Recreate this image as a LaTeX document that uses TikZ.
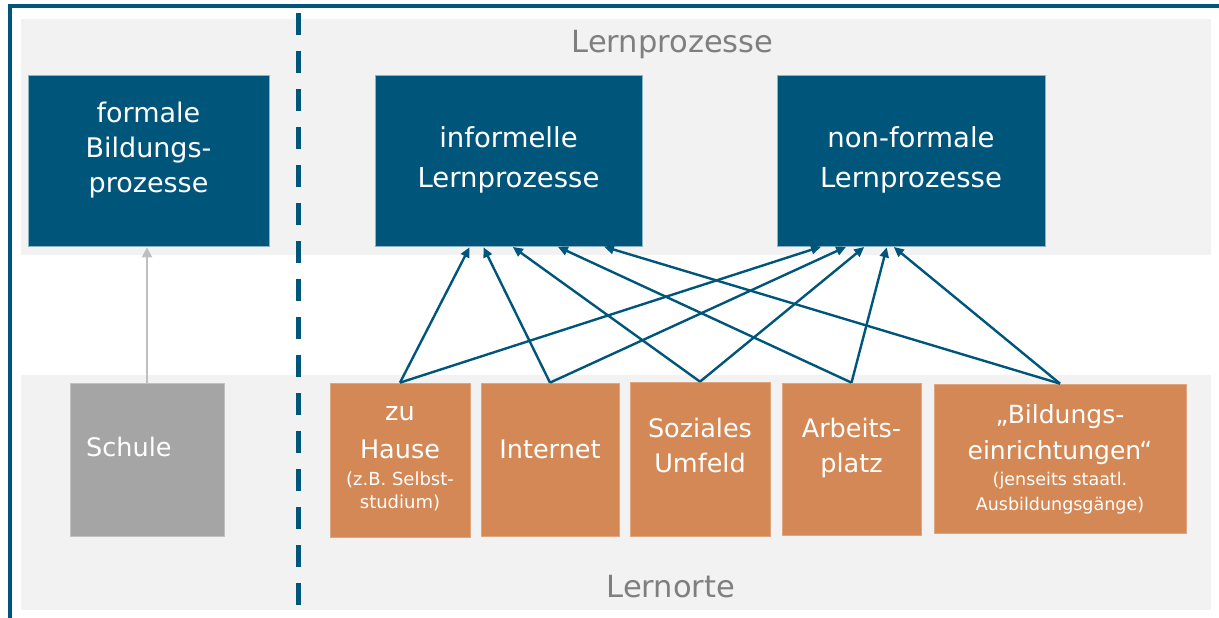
\documentclass[tikz,border=0pt]{standalone}
\usepackage{fontspec}
\setmainfont{DejaVu Sans}
\usetikzlibrary{arrows.meta, positioning, calc}

\definecolor{boxblue}{RGB}{0,86,122}
\definecolor{ortorange}{RGB}{211,136,85}
\definecolor{schulgrau}{RGB}{165,165,165}
\definecolor{bandgrau}{RGB}{242,242,242}
\definecolor{labelgrau}{RGB}{127,127,127}
\definecolor{pfeilgrau}{RGB}{191,191,191}

\begin{document}
\begin{tikzpicture}[x=1pt, y=-1pt,
    prozess/.style={fill=boxblue, draw=boxblue!45!white, line width=0.7pt, inner sep=0pt},
    ort/.style={fill=ortorange, draw=ortorange!75!white, line width=0.7pt, inner sep=0pt},
    schulbox/.style={fill=schulgrau, draw=schulgrau!70!white, line width=0.7pt, inner sep=0pt},
    prozesstext/.style={text=white, font=\fontsize{27.5}{40}\selectfont, align=center, inner sep=0pt, anchor=base},
    orttext/.style={text=white, font=\fontsize{25.5}{35}\selectfont, align=center, inner sep=0pt, anchor=base},
    kleintext/.style={text=white, font=\fontsize{18}{24}\selectfont, align=center, inner sep=0pt, anchor=base},
    bandlabel/.style={text=labelgrau, font=\fontsize{30.5}{36}\selectfont, inner sep=0pt, anchor=base},
    pfeil/.style={-{Triangle[length=10pt, width=9pt]}, boxblue, line width=2.4pt, shorten >=1pt}]
    \useasboundingbox (0,0) rectangle (1219,618);

    % Baender
    \fill[bandgrau] (21,19) rectangle (1211,255);
    \fill[bandgrau] (21,375) rectangle (1211,610);
    \node[bandlabel] (lprozesse) at (672.5,53) {Lernprozesse};
    \node[bandlabel] (lorte) at (671,597) {Lernorte};

    % Rahmen und Trennlinie
    \draw[boxblue, line width=3.5pt] (10,622) -- (10,6) -- (1223,6);
    \draw[boxblue, line width=5pt, dash pattern=on 22pt off 16pt] (298,13) -- (298,610);

    % Lernprozesse
    \node[prozess, minimum width=241pt, minimum height=171pt] (formal) at (148.5,160.5) {};
    \node[prozesstext, font=\fontsize{27}{35}\selectfont] (formal-t) at (148.5,192) {formale\\Bildungs-\\prozesse};
    \node[prozess, minimum width=267pt, minimum height=171pt] (inf) at (508.5,160.5) {};
    \node[prozesstext] (inf-t) at (508.5,187) {informelle\\Lernprozesse};
    \node[prozess, minimum width=268pt, minimum height=171pt] (nonf) at (911,160.5) {};
    \node[prozesstext] (nonf-t) at (911,187) {non-formale\\Lernprozesse};

    % Lernorte
    \node[schulbox, minimum width=154pt, minimum height=153pt] (schule) at (147,459.5) {};
    \node[orttext, anchor=base west] (schule-t) at (86,456) {Schule};
    \node[ort, minimum width=140pt, minimum height=154pt] (haus) at (400,460) {};
    \node[orttext, font=\fontsize{25.5}{38}\selectfont] (haus-t) at (400,458) {zu\\Hause};
    \node[kleintext, font=\fontsize{18}{23}\selectfont] (haus-k) at (400,508) {(z.B. Selbst-\\studium)};
    \node[ort, minimum width=138pt, minimum height=153pt] (internet) at (550,459.5) {};
    \node[orttext] (internet-t) at (550,458) {Internet};
    \node[ort, minimum width=140pt, minimum height=154pt] (sozial) at (700,459) {};
    \node[orttext] (sozial-t) at (700,472) {Soziales\\Umfeld};
    \node[ort, minimum width=139pt, minimum height=152pt] (arbeit) at (851.5,459) {};
    \node[orttext] (arbeit-t) at (851.5,472) {Arbeits-\\platz};
    \node[ort, minimum width=252pt, minimum height=149pt] (bildung) at (1060,458.5) {};
    \node[orttext, font=\fontsize{25}{36}\selectfont] (bildung-t) at (1060,459) {„Bildungs-\\einrichtungen“};
    \node[kleintext, font=\fontsize{17.5}{25}\selectfont] (bildung-k) at (1060,510) {(jenseits staatl.\\Ausbildungsgänge)};

    % Verbindungen
    \draw[-{Triangle[length=10pt, width=10pt]}, pfeilgrau, line width=2.2pt, shorten >=1pt] (schule.north) -- (schule.north |- formal.south);
    \foreach \o/\a/\b in {haus/-38.5/-89, internet/-25.5/-64, sozial/3.5/-46, arbeit/48.5/-24, bildung/94.5/-18}{
        \draw[pfeil] (\o.north) -- ([xshift=\a pt]inf.south);
        \draw[pfeil] (\o.north) -- ([xshift=\b pt]nonf.south);
    }
\end{tikzpicture}
\end{document}
